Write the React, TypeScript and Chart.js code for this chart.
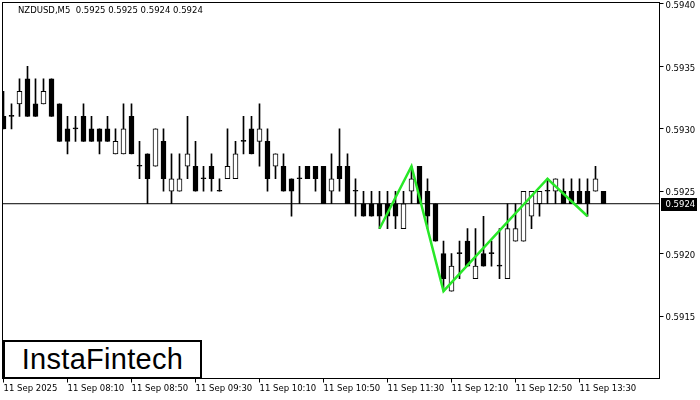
import React, { useEffect, useRef } from 'react';
import { Chart, registerables } from 'chart.js';

Chart.register(...registerables);

const symbolTitle = 'NZDUSD,M5  0.5925 0.5925 0.5924 0.5924';
const brandText = 'InstaFintech';

const opens = [
  0.5931, 0.5931, 0.5932, 0.5934, 0.5932, 0.5932, 0.5934, 0.5932, 0.5930, 0.5930,
  0.5931, 0.5930, 0.5930, 0.5930, 0.5928, 0.5928, 0.5931, 0.5927, 0.5928, 0.5927,
  0.5929, 0.5925, 0.5925, 0.5927, 0.5927, 0.5926, 0.5927, 0.5925, 0.5926, 0.5926,
  0.5929, 0.5930, 0.5929, 0.5929, 0.5927, 0.5927, 0.5926, 0.5926, 0.5927, 0.5927,
  0.5927, 0.5925, 0.5927, 0.5927, 0.5925, 0.5924, 0.5924, 0.5924, 0.5924, 0.5924,
  0.5922, 0.5925, 0.5927, 0.5925, 0.5924, 0.5920, 0.5917, 0.5920, 0.5921, 0.5918,
  0.5920, 0.5920, 0.5919, 0.5918, 0.5921, 0.5921, 0.5923, 0.5924, 0.5925, 0.5925,
  0.5925, 0.5925, 0.5925, 0.5925, 0.5925, 0.5925,
];
const highs = [
  0.5933, 0.5932, 0.5934, 0.5935, 0.5934, 0.5934, 0.5934, 0.5932, 0.5931, 0.5931,
  0.5932, 0.5931, 0.5930, 0.5931, 0.5930, 0.5932, 0.5932, 0.5929, 0.5928, 0.5930,
  0.5930, 0.5928, 0.5928, 0.5931, 0.5929, 0.5927, 0.5928, 0.5926, 0.5930, 0.5929,
  0.5931, 0.5931, 0.5932, 0.5930, 0.5928, 0.5928, 0.5926, 0.5927, 0.5927, 0.5927,
  0.5927, 0.5928, 0.5930, 0.5928, 0.5926, 0.5925, 0.5925, 0.5925, 0.5925, 0.5925,
  0.5925, 0.5927, 0.5927, 0.5926, 0.5924, 0.5921, 0.5920, 0.5921, 0.5922, 0.5922,
  0.5923, 0.5921, 0.5922, 0.5924, 0.5924, 0.5925, 0.5925, 0.5925, 0.5926, 0.5926,
  0.5926, 0.5926, 0.5926, 0.5926, 0.5927, 0.5925,
];
const lows = [
  0.5930, 0.5930, 0.5931, 0.5931, 0.5931, 0.5932, 0.5931, 0.5929, 0.5928, 0.5929,
  0.5929, 0.5929, 0.5928, 0.5929, 0.5928, 0.5928, 0.5928, 0.5926, 0.5924, 0.5927,
  0.5925, 0.5924, 0.5925, 0.5926, 0.5925, 0.5925, 0.5925, 0.5925, 0.5926, 0.5926,
  0.5928, 0.5928, 0.5927, 0.5925, 0.5926, 0.5925, 0.5923, 0.5924, 0.5926, 0.5925,
  0.5924, 0.5924, 0.5925, 0.5924, 0.5923, 0.5923, 0.5923, 0.5922, 0.5922, 0.5922,
  0.5922, 0.5924, 0.5924, 0.5922, 0.5921, 0.5917, 0.5917, 0.5918, 0.5919, 0.5918,
  0.5919, 0.5919, 0.5918, 0.5918, 0.5921, 0.5921, 0.5922, 0.5923, 0.5924, 0.5924,
  0.5924, 0.5924, 0.5924, 0.5923, 0.5925, 0.5924,
];
const closes = [
  0.5930, 0.5931, 0.5933, 0.5931, 0.5931, 0.5933, 0.5931, 0.5929, 0.5929, 0.5930,
  0.5929, 0.5929, 0.5929, 0.5929, 0.5929, 0.5930, 0.5928, 0.5927, 0.5926, 0.5930,
  0.5926, 0.5926, 0.5926, 0.5928, 0.5925, 0.5926, 0.5926, 0.5925, 0.5927, 0.5928,
  0.5929, 0.5928, 0.5930, 0.5926, 0.5928, 0.5925, 0.5925, 0.5926, 0.5926, 0.5926,
  0.5924, 0.5926, 0.5926, 0.5924, 0.5925, 0.5923, 0.5923, 0.5923, 0.5923, 0.5923,
  0.5924, 0.5926, 0.5924, 0.5923, 0.5921, 0.5918, 0.5919, 0.5920, 0.5919, 0.5919,
  0.5919, 0.5920, 0.5919, 0.5922, 0.5922, 0.5925, 0.5925, 0.5925, 0.5925, 0.5926,
  0.5924, 0.5924, 0.5924, 0.5924, 0.5926, 0.5924,
];

const tickIndex = [0, 8, 16, 24, 32, 40, 48, 56, 64, 72];
const tickLabels = [
  '11 Sep 2025', '11 Sep 08:10', '11 Sep 08:50', '11 Sep 09:30', '11 Sep 10:10',
  '11 Sep 10:50', '11 Sep 11:30', '11 Sep 12:10', '11 Sep 12:50', '11 Sep 13:30',
];
const yTicks = [0.5915, 0.592, 0.5925, 0.593, 0.5935, 0.594];
const currentPrice = 0.5924;
const currentPriceLabel = '0.5924';
const patternIndex = [47, 51, 55, 68, 73];
const patternPrice = [0.5922, 0.5927, 0.5917, 0.5926, 0.5923];

const X_MIN = -0.125;
const X_MAX = 82;
const Y_MIN = 0.591;
const Y_MAX = 0.594012;
const FONT = '"DejaVu Sans", sans-serif';
const FONT_SIZE = 8.5;

const framePlugin = {
  id: 'frame',
  afterDatasetsDraw(chart: any) {
    const { ctx, chartArea } = chart;
    ctx.save();
    ctx.strokeStyle = '#000';
    ctx.lineWidth = 1;
    ctx.strokeRect(chartArea.left, chartArea.top, chartArea.right - chartArea.left, chartArea.bottom - chartArea.top);
    ctx.restore();
  },
};

const priceTagPlugin = {
  id: 'priceTag',
  afterDraw(chart: any) {
    const { ctx, chartArea, scales } = chart;
    const y = Math.round(scales.y.getPixelForValue(currentPrice));
    ctx.save();
    ctx.fillStyle = '#000';
    ctx.fillRect(chartArea.right + 1.5, y - 6, 36, 13);
    ctx.fillStyle = '#fff';
    ctx.font = FONT_SIZE + 'px ' + FONT;
    ctx.textBaseline = 'middle';
    ctx.textAlign = 'left';
    ctx.fillText(currentPriceLabel, chartArea.right + 6, y + 0.5);
    ctx.restore();
  },
};

export default function App() {
  const canvasRef = useRef<HTMLCanvasElement | null>(null);

  useEffect(() => {
    const canvas = canvasRef.current;
    if (!canvas) return;

    const bodies = opens.map((o, i) => ({ x: i, y: [o, closes[i]] }));
    const wicks = lows.map((l, i) => ({ x: i, y: [l, highs[i]] }));
    const bodyColors = opens.map((o, i) => (closes[i] > o ? '#ffffff' : '#000000'));
    const pattern = patternIndex.map((idx, i) => ({ x: idx, y: patternPrice[i] }));
    const priceLine = [
      { x: X_MIN, y: currentPrice },
      { x: X_MAX, y: currentPrice },
    ];

    const chart = new Chart(canvas, {
      type: 'bar',
      data: {
        datasets: [
          {
            type: 'line',
            data: pattern,
            borderColor: 'rgb(40,232,40)',
            borderWidth: 2.5,
            pointRadius: 0,
            tension: 0,
            order: 0,
          } as any,
          {
            type: 'bar',
            data: bodies,
            backgroundColor: bodyColors,
            borderColor: '#000',
            borderWidth: 1,
            borderSkipped: false,
            barThickness: 5,
            minBarLength: 1,
            grouped: false,
            order: 1,
          } as any,
          {
            type: 'bar',
            data: wicks,
            backgroundColor: '#000',
            borderWidth: 0,
            barThickness: 1,
            grouped: false,
            order: 2,
          } as any,
          {
            type: 'line',
            data: priceLine,
            borderColor: '#000',
            borderWidth: 1,
            pointRadius: 0,
            order: 3,
          } as any,
        ],
      },
      options: {
        responsive: false,
        animation: false,
        layout: { padding: { left: 2.5, top: 2.5, right: 0, bottom: 0 } },
        plugins: { legend: { display: false }, tooltip: { enabled: false }, title: { display: false } },
        scales: {
          x: {
            type: 'linear',
            min: X_MIN,
            max: X_MAX,
            bounds: 'data',
            offset: false,
            afterBuildTicks: (scale: any) => {
              scale.ticks = tickIndex.map((v) => ({ value: v }));
            },
            afterFit: (scale: any) => {
              scale.height = 21.5;
              scale.paddingLeft = 0;
              scale.paddingRight = 0;
            },
            grid: { offset: false, drawOnChartArea: false, drawTicks: true, tickLength: 4, color: '#000', tickColor: '#000' },
            border: { display: true, color: '#000', width: 1 },
            ticks: {
              autoSkip: false,
              maxRotation: 0,
              minRotation: 0,
              align: 'start',
              padding: 1,
              color: '#000',
              font: { family: FONT, size: FONT_SIZE },
              callback: (v: any) => {
                const k = tickIndex.indexOf(Number(v));
                return k >= 0 ? tickLabels[k] : '';
              },
            },
          },
          y: {
            type: 'linear',
            position: 'right',
            min: Y_MIN,
            max: Y_MAX,
            bounds: 'data',
            afterBuildTicks: (scale: any) => {
              scale.ticks = yTicks.map((v) => ({ value: v }));
            },
            afterFit: (scale: any) => {
              scale.width = 40.5;
              scale.paddingTop = 0;
              scale.paddingBottom = 0;
            },
            grid: { drawOnChartArea: false, drawTicks: true, tickLength: 4, color: '#000', tickColor: '#000' },
            border: { display: true, color: '#000', width: 1 },
            ticks: {
              padding: 2,
              labelOffset: 2,
              color: '#000',
              font: { family: FONT, size: FONT_SIZE },
              callback: (v: any) => Number(v).toFixed(4),
            },
          },
        },
      } as any,
      plugins: [framePlugin, priceTagPlugin],
    });

    return () => chart.destroy();
  }, []);

  return (
    <div style={{ position: 'fixed', left: 0, top: 0, width: 700, height: 400, background: '#fff', overflow: 'hidden' }}>
      <canvas ref={canvasRef} width={700} height={400} style={{ display: 'block', width: 700, height: 400 }} />
      <div
        style={{
          position: 'absolute',
          left: 18,
          top: 5,
          fontFamily: FONT,
          fontSize: FONT_SIZE,
          lineHeight: '10px',
          color: '#000',
          whiteSpace: 'pre',
        }}
      >
        {symbolTitle}
      </div>
      <div
        style={{
          position: 'absolute',
          left: 3,
          top: 340,
          width: 199,
          height: 39,
          boxSizing: 'border-box',
          border: '2px solid #000',
          background: '#fff',
          display: 'flex',
          alignItems: 'center',
          justifyContent: 'center',
          fontFamily: '"Liberation Sans", Arial, sans-serif',
          fontSize: 29,
          color: '#000',
          letterSpacing: 0.3,
        }}
      >
        {brandText}
      </div>
    </div>
  );
}
